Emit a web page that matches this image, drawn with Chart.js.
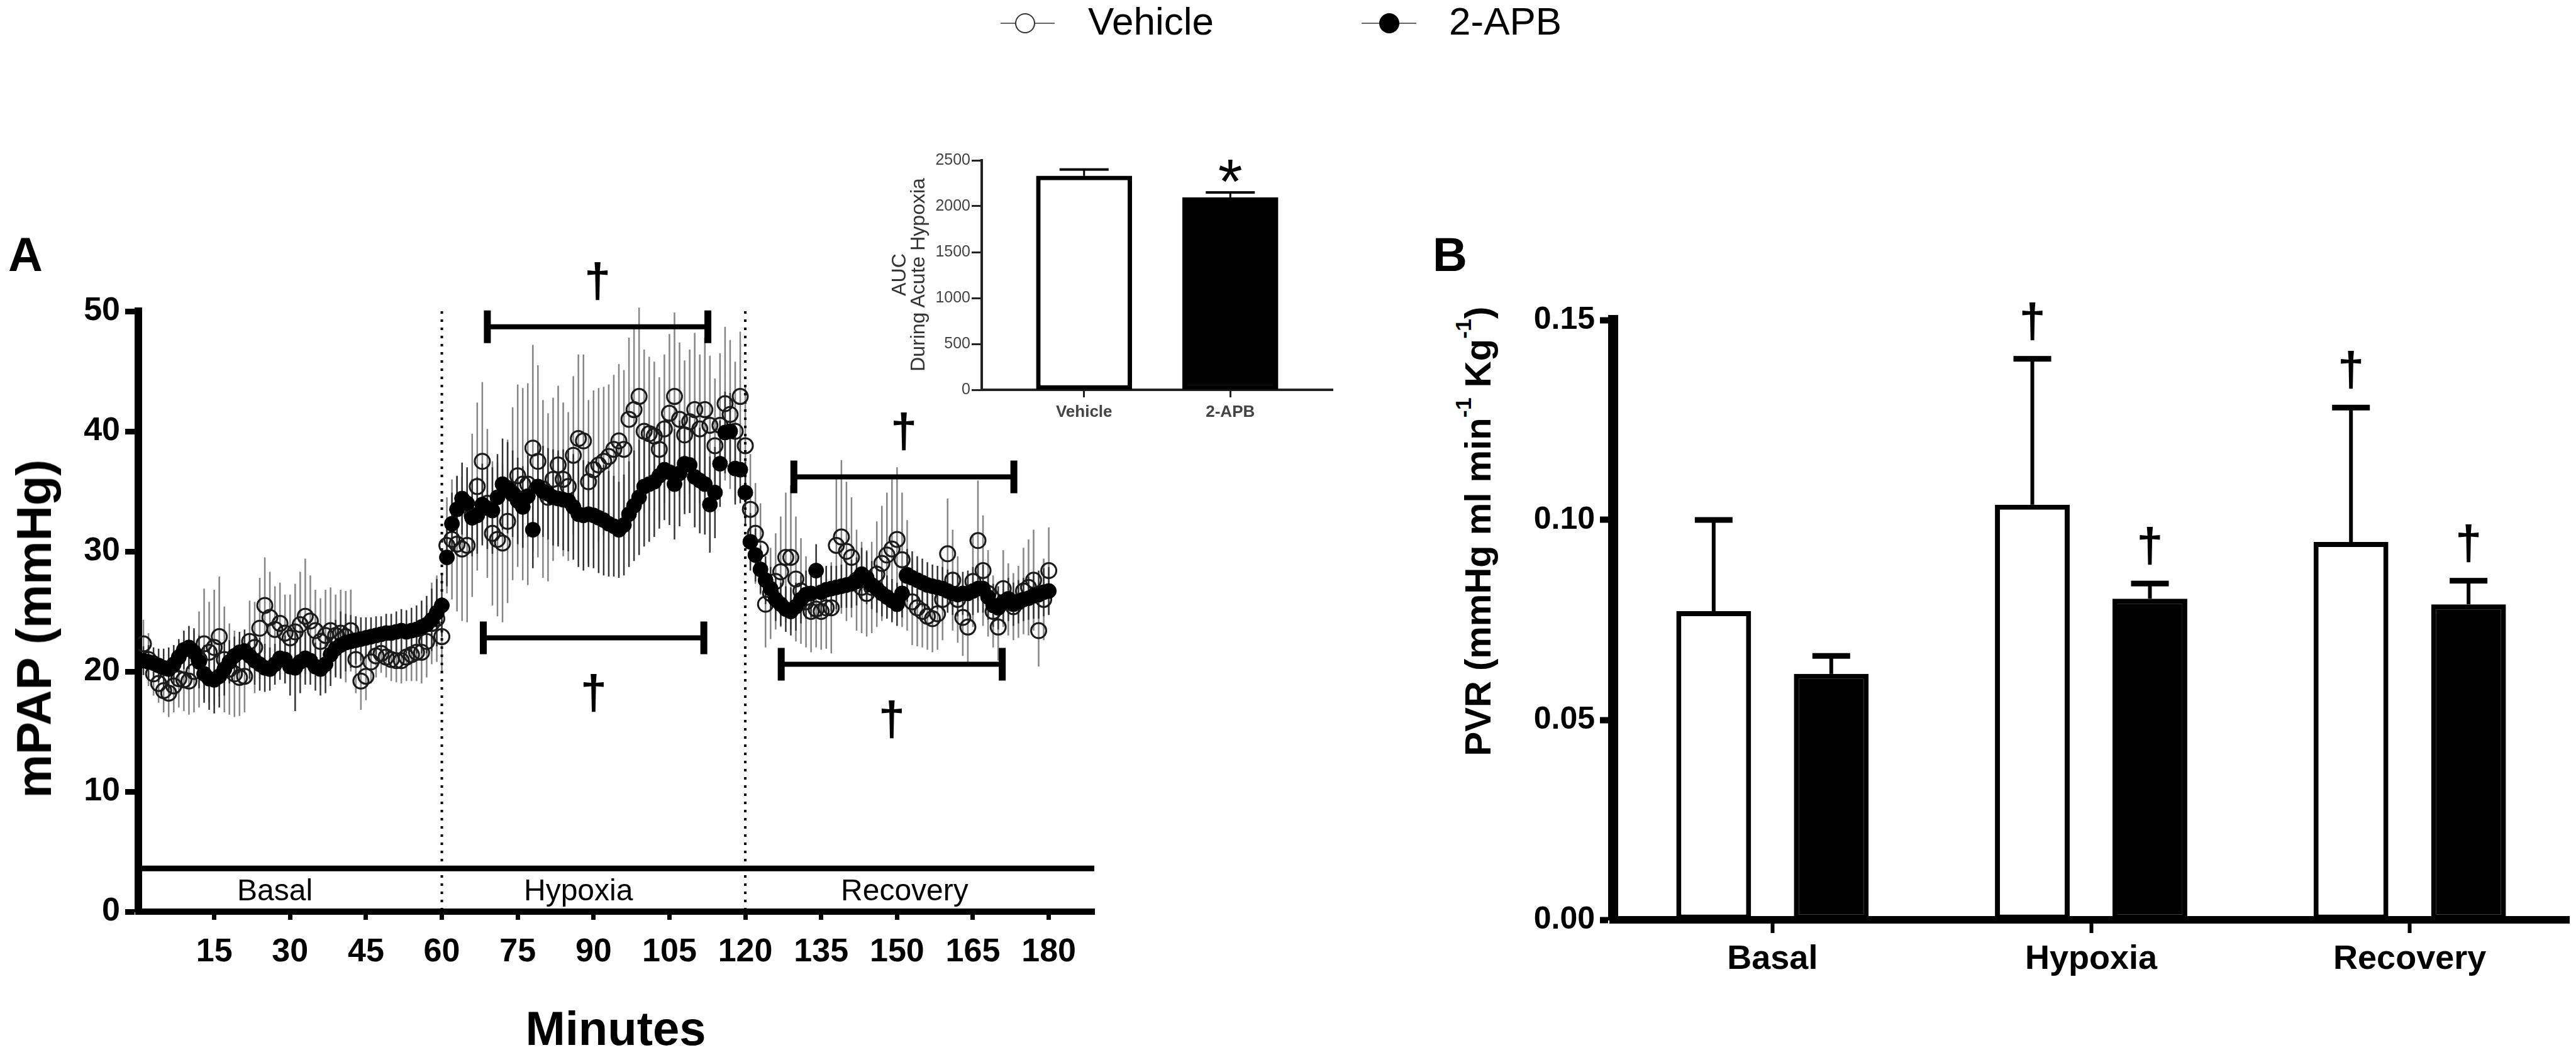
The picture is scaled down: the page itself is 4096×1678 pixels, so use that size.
<!DOCTYPE html>
<html>
<head>
<meta charset="utf-8">
<script src="https://cdn.jsdelivr.net/npm/chart.js@4.4.1/dist/chart.umd.min.js"></script>
<style>
body { margin: 0; background: #fff; width: 4096px; height: 1678px; position: relative; overflow: hidden; font-family: "Liberation Sans", Arial, sans-serif; }
canvas { position: absolute; }
.t { position: absolute; line-height: 1; white-space: nowrap; color: #000; }
.rot { transform: translate(-50%, -50%) rotate(-90deg); }
.sup { font-size: 0.62em; position: relative; top: -0.85em; }
</style>
</head>
<body>
<canvas id="mpap" width="1800" height="1298" style="left:0;top:380px;width:1800px;height:1298px"></canvas>
<canvas id="auc" width="760" height="500" style="left:1380px;top:200px;width:760px;height:500px"></canvas>
<canvas id="pvr" width="1696" height="1298" style="left:2400px;top:380px;width:1696px;height:1298px"></canvas>

<!-- legend -->
<div style="position:absolute;left:1591px;top:36px;width:86px;height:2px;background:#666"></div>
<div style="position:absolute;left:1614px;top:21px;width:32px;height:32px;box-sizing:border-box;border:2px solid #333;border-radius:50%;background:#fff"></div>
<div class="t" style="left:1730px;top:3px;font-size:62px">Vehicle</div>
<div style="position:absolute;left:2165px;top:36px;width:87px;height:2px;background:#666"></div>
<div style="position:absolute;left:2193px;top:21px;width:32px;height:32px;border-radius:50%;background:#000"></div>
<div class="t" style="left:2304px;top:3px;font-size:62px">2-APB</div>

<!-- panel letters and axis titles -->
<div class="t" style="left:13px;top:367px;font-size:76px;font-weight:bold">A</div>
<div class="t" style="left:2278px;top:367px;font-size:76px;font-weight:bold">B</div>
<div class="t rot" style="left:54px;top:1000px;font-size:78px;font-weight:bold">mPAP (mmHg)</div>
<div class="t" style="left:979px;top:1598px;font-size:76px;font-weight:bold;transform:translateX(-50%)">Minutes</div>
<div class="t rot" style="left:2350px;top:845px;font-size:58px;font-weight:bold">PVR (mmHg ml min<span class="sup">-1</span> Kg<span class="sup">-1</span>)</div>
<div class="t rot" style="left:1429px;top:437px;font-size:32px;color:#333">AUC</div>
<div class="t rot" style="left:1459px;top:437px;font-size:32px;color:#333">During Acute Hypoxia</div>

<script>
// ---- panel A: mPAP every minute ----
const minutes = Array.from({ length: 180 }, (_, i) => i + 1);

const vehicleMean = [
    22.3, 21.0, 19.8, 19.0, 18.4, 18.2, 18.8, 19.4, 19.3, 19.2,
    20.0, 21.0, 22.3, 21.6, 22.0, 22.9, 21.0, 20.2, 19.8, 19.5,
    19.6, 22.5, 22.0, 23.6, 25.5, 24.5, 23.5, 24.0, 23.2, 22.8,
    23.3, 23.9, 24.6, 24.2, 23.4, 22.5, 23.0, 23.4, 23.0, 23.2,
    22.9, 23.4, 21.0, 19.2, 19.6, 20.8, 21.3, 21.5, 21.2, 21.0,
    20.9, 20.9, 21.2, 21.4, 21.6, 21.6, 22.5, 24.0, 24.4, 22.9,
    30.5, 31.0, 30.6, 30.2, 30.5, 33.0, 35.4, 37.5, 34.0, 31.5,
    31.0, 30.7, 32.5, 34.8, 36.3, 35.6, 35.6, 38.6, 37.5, 35.2,
    34.5, 36.0, 37.2, 36.0, 35.4, 38.0, 39.4, 39.2, 35.8, 36.8,
    37.2, 37.5, 37.9, 38.5, 39.2, 38.5, 41.0, 41.8, 42.9, 40.0,
    39.8, 39.6, 38.5, 40.2, 41.5, 42.9, 41.0, 39.7, 40.8, 41.8,
    40.2, 41.8, 40.5, 38.8, 40.5, 42.3, 41.4, 40.0, 42.9, 38.8,
    33.5, 31.5, 30.2, 25.6, 26.5, 27.5, 28.3, 29.5, 29.5, 27.7,
    26.7, 25.8, 25.0, 25.2, 25.0, 25.3, 25.3, 30.5, 31.2, 30.0,
    29.5, 27.6, 27.0, 26.5, 27.0, 28.1, 29.0, 29.7, 30.2, 31.0,
    29.3, 28.0, 25.8, 25.3, 25.0, 24.6, 24.4, 24.8, 26.0, 29.8,
    27.6, 26.0, 24.5, 23.7, 27.5, 30.9, 28.4, 26.5, 25.0, 23.7,
    26.9, 26.0, 25.4, 25.8, 26.7, 27.0, 27.6, 23.4, 26.0, 28.4
];
const vehicleSem = [
    2.0, 2.2, 1.8, 1.6, 1.8, 2.0, 2.2, 2.4, 2.6, 2.8,
    3.4, 4.0, 4.6, 4.2, 4.8, 5.0, 4.4, 3.8, 3.6, 3.2,
    3.0, 3.4, 3.8, 4.2, 4.0, 3.8, 3.6, 3.4, 3.2, 3.6,
    4.0, 4.4, 4.8, 3.8, 3.4, 3.6, 3.8, 3.6, 3.4, 3.6,
    3.8, 3.4, 2.8, 2.4, 2.0, 1.8, 1.8, 1.6, 1.7, 1.8,
    1.8, 1.9, 2.0, 2.2, 2.4, 2.6, 3.0, 3.4, 3.6, 3.0,
    4.0, 5.0, 5.6, 6.0, 6.4, 6.8, 7.0, 6.6, 6.2, 6.0,
    6.4, 6.6, 6.8, 7.2, 7.6, 8.0, 8.4, 8.6, 8.0, 7.4,
    7.0, 6.8, 6.6, 6.4, 6.2, 6.6, 7.0, 7.2, 6.8, 6.6,
    6.4, 6.2, 6.0, 6.2, 6.4, 6.6, 6.8, 7.0, 7.4, 6.8,
    6.4, 6.2, 6.0, 6.2, 6.6, 7.0, 6.4, 6.2, 6.0, 6.4,
    6.2, 6.0, 5.8, 5.6, 6.0, 6.4, 6.2, 5.8, 5.4, 5.0,
    4.6, 4.2, 3.8, 3.6, 3.8, 4.0, 4.6, 5.4, 6.0, 5.2,
    4.4, 3.8, 3.4, 3.2, 3.2, 3.4, 3.8, 5.6, 6.4, 5.8,
    5.0, 4.2, 3.8, 3.6, 3.8, 4.4, 4.8, 5.2, 5.8, 6.0,
    5.6, 4.6, 3.6, 3.2, 3.0, 2.8, 2.8, 3.0, 3.4, 4.6,
    4.2, 3.6, 3.2, 3.0, 3.8, 5.0, 4.6, 3.6, 3.0, 2.8,
    3.2, 3.0, 2.8, 3.0, 3.6, 4.0, 4.2, 3.0, 3.4, 3.6
];
const apbMean = [
    20.9, 20.8, 20.7, 20.5, 20.3, 20.2, 20.6, 21.2, 21.8, 22.0,
    21.6, 20.8, 19.8, 19.4, 19.3, 19.6, 20.2, 20.8, 21.3, 21.6,
    21.7, 21.3, 20.9, 20.6, 20.3, 20.2, 20.6, 21.1, 21.0, 20.4,
    20.3, 20.8, 21.1, 20.9, 20.4, 20.2, 20.6, 21.4, 21.9, 22.2,
    22.4, 22.5, 22.6, 22.7, 22.8, 22.9, 23.0, 23.1, 23.2, 23.2,
    23.3, 23.4, 23.3, 23.4, 23.5, 23.7, 23.9, 24.3, 24.9, 25.5,
    29.5, 32.3, 33.5, 34.4, 34.0, 32.8, 33.0, 33.9, 33.6, 33.4,
    34.5, 35.6, 35.3, 34.8, 34.2, 33.7, 34.6, 31.8, 35.4, 35.0,
    34.8, 34.5, 34.4, 34.3, 34.2, 33.7, 33.1, 33.0, 33.1, 33.0,
    32.8, 32.6, 32.3, 32.1, 31.8, 32.2, 33.1, 33.8, 34.5, 35.4,
    35.6, 35.8, 36.3, 36.8, 36.6, 35.6, 36.5, 37.3, 37.2, 36.2,
    35.9, 35.6, 33.9, 34.9, 37.3, 39.9, 40.0, 36.9, 36.8, 34.9,
    30.8, 29.7, 28.5, 27.6, 26.9, 26.0, 25.6, 25.2, 25.0, 25.4,
    26.0, 26.4, 26.5, 28.4, 26.6, 26.8, 26.9, 27.0, 27.1, 27.2,
    27.3, 27.5, 28.1, 27.8, 27.2, 26.9, 26.5, 26.2, 25.9, 25.6,
    26.5, 28.0, 27.8, 27.6, 27.4, 27.2, 27.1, 27.0, 26.9, 26.7,
    26.5, 26.4, 26.5, 26.5, 26.7, 26.9, 26.9, 26.2, 25.5, 25.3,
    25.8, 26.0, 25.6, 25.8, 26.0, 26.1, 26.3, 26.4, 26.6, 26.7
];
const apbSem = [
    1.2, 1.4, 1.3, 1.4, 1.6, 1.8, 1.6, 1.5, 1.6, 1.8,
    2.0, 2.2, 2.4, 2.6, 2.8, 2.6, 2.2, 1.8, 1.6, 1.7,
    1.8, 1.9, 2.0, 2.2, 2.0, 1.8, 1.7, 1.8, 2.0, 2.4,
    3.6, 2.6, 2.2, 2.0, 2.0, 2.2, 2.4, 2.6, 2.4, 2.8,
    2.4, 2.2, 2.0, 1.8, 1.7, 1.6, 1.6, 1.5, 1.6, 1.6,
    1.7, 1.8, 1.8, 1.9, 2.0, 2.2, 2.4, 2.6, 2.8, 2.6,
    2.4, 2.6, 2.8, 3.0, 3.0, 3.2, 3.2, 3.4, 3.4, 3.6,
    3.6, 3.8, 3.8, 3.6, 3.6, 3.4, 3.4, 3.2, 3.6, 3.8,
    3.8, 4.0, 4.0, 4.2, 4.2, 4.4, 4.4, 4.6, 4.4, 4.4,
    4.6, 4.6, 4.4, 4.2, 4.0, 4.2, 4.4, 4.6, 4.8, 5.0,
    4.8, 4.6, 4.4, 4.2, 4.4, 4.6, 4.4, 4.2, 4.0, 4.2,
    4.4, 4.2, 4.0, 3.8, 3.6, 3.4, 3.2, 3.0, 2.8, 2.6,
    2.4, 2.2, 2.0, 2.0, 1.8, 1.8, 1.8, 1.9, 2.0, 2.0,
    2.0, 2.0, 2.0, 2.2, 2.0, 2.0, 1.9, 1.8, 1.8, 1.9,
    2.0, 2.0, 2.2, 2.2, 2.0, 2.0, 1.9, 1.8, 1.8, 1.8,
    2.0, 2.2, 2.2, 2.0, 2.0, 1.9, 1.8, 1.8, 1.8, 1.8,
    1.8, 1.8, 1.8, 1.9, 2.0, 2.0, 2.0, 1.9, 1.8, 1.8,
    1.8, 1.8, 1.8, 1.8, 1.8, 1.8, 1.9, 2.0, 2.0, 2.0
];
const mpapTicks = [0, 10, 20, 30, 40, 50];
const minuteTicks = [15, 30, 45, 60, 75, 90, 105, 120, 135, 150, 165, 180];
const phaseNames = ["Basal", "Hypoxia", "Recovery"];
const phaseStart = [0, 60, 120];
const phaseEnd = [60, 120, 189];
// significance brackets (minutes, mmHg)
const bracketStart = [69, 68.2, 129.6, 127.1];
const bracketEnd = [112.6, 111.8, 173.1, 170.8];
const bracketLevel = [48.7, 22.8, 36.2, 20.6];
const bracketSide = ["above", "below", "above", "below"];

// ---- inset: AUC ----
const aucGroups = ["Vehicle", "2-APB"];
const aucMean = [2330, 2095];
const aucSem = [70, 55];
const aucMarks = ["", "*"];
const aucTicks = [0, 500, 1000, 1500, 2000, 2500];

// ---- panel B: PVR ----
const pvrPhases = ["Basal", "Hypoxia", "Recovery"];
const pvrVehicle = [0.0772, 0.1038, 0.0945];
const pvrVehicleSem = [0.0228, 0.0365, 0.0336];
const pvrApb = [0.0615, 0.0803, 0.0789];
const pvrApbSem = [0.0045, 0.0038, 0.0059];
const pvrVehicleMarks = ["", "\u2020", "\u2020"];
const pvrApbMarks = ["", "\u2020", "\u2020"];
const pvrTicks = [0, 0.05, 0.10, 0.15];

const FONT = '"Liberation Sans", Arial, sans-serif';
Chart.defaults.font.family = FONT;
Chart.defaults.color = "#000";

const fixedTicks = list => scale => { scale.ticks = list.map(v => ({ value: v })); };

const pointErrors = {
    id: "pointErrors",
    beforeDatasetsDraw(chart) {
        const { ctx, scales: { x, y } } = chart;
        ctx.save();
        chart.data.datasets.forEach(ds => {
            ctx.strokeStyle = ds.errColor;
            ctx.lineWidth = 2.5;
            ctx.beginPath();
            ds.data.forEach((p, i) => {
                const px = x.getPixelForValue(p.x);
                ctx.moveTo(px, y.getPixelForValue(p.y - ds.sem[i]));
                ctx.lineTo(px, y.getPixelForValue(p.y + ds.sem[i]));
            });
            ctx.stroke();
        });
        ctx.restore();
    }
};

const phaseMarks = {
    id: "phaseMarks",
    beforeDatasetsDraw(chart) {
        const { ctx, scales: { x, y } } = chart;
        ctx.save();
        ctx.strokeStyle = "#000";
        ctx.lineWidth = 4;
        ctx.setLineDash([4, 9]);
        phaseStart.slice(1).forEach(m => {
            const px = x.getPixelForValue(m);
            ctx.beginPath();
            ctx.moveTo(px, y.getPixelForValue(y.max));
            ctx.lineTo(px, y.getPixelForValue(0));
            ctx.stroke();
        });
        ctx.restore();
    },
    afterDatasetsDraw(chart) {
        const { ctx, chartArea, scales: { x, y } } = chart;
        ctx.save();
        ctx.strokeStyle = "#000";
        ctx.fillStyle = "#000";
        // phase band
        const band = y.getPixelForValue(3.6);
        ctx.lineWidth = 9;
        ctx.beginPath();
        ctx.moveTo(chartArea.left, band);
        ctx.lineTo(chartArea.right, band);
        ctx.stroke();
        ctx.font = "48px " + FONT;
        ctx.textAlign = "center";
        ctx.textBaseline = "alphabetic";
        phaseNames.forEach((name, i) => {
            const mid = (phaseStart[i] + phaseEnd[i]) / 2 - 3;
            ctx.fillText(name, x.getPixelForValue(mid), y.getPixelForValue(0) - 18);
        });
        // brackets and daggers
        ctx.font = "bold 76px " + FONT;
        bracketStart.forEach((s, i) => {
            const x1 = x.getPixelForValue(s);
            const x2 = x.getPixelForValue(bracketEnd[i]);
            const py = y.getPixelForValue(bracketLevel[i]);
            ctx.lineWidth = 8;
            ctx.beginPath();
            ctx.moveTo(x1, py);
            ctx.lineTo(x2, py);
            ctx.stroke();
            ctx.lineWidth = 11;
            ctx.beginPath();
            ctx.moveTo(x1, py - 26); ctx.lineTo(x1, py + 26);
            ctx.moveTo(x2, py - 26); ctx.lineTo(x2, py + 26);
            ctx.stroke();
            const cy = bracketSide[i] === "above" ? py - 70 : py + 90;
            ctx.fillText("\u2020", (x1 + x2) / 2, cy + 0.29 * 76);
        });
        ctx.restore();
    }
};

const barErrors = {
    id: "barErrors",
    afterDatasetsDraw(chart, args, opts) {
        const { ctx } = chart;
        const y = chart.scales.y;
        ctx.save();
        ctx.strokeStyle = "#000";
        ctx.fillStyle = "#000";
        chart.data.datasets.forEach((ds, di) => {
            const meta = chart.getDatasetMeta(di);
            meta.data.forEach((bar, i) => {
                const raw = ds.data[i];
                const v = typeof raw === "object" ? raw.y : raw;
                const top = y.getPixelForValue(v + ds.sem[i]);
                ctx.lineWidth = opts.line;
                ctx.beginPath();
                ctx.moveTo(bar.x, bar.y);
                ctx.lineTo(bar.x, top);
                ctx.stroke();
                ctx.fillRect(bar.x - opts.cap / 2, top - opts.capThick / 2, opts.cap, opts.capThick);
                const mark = ds.marks[i];
                if (mark) {
                    ctx.font = opts.markFont;
                    ctx.textAlign = "center";
                    ctx.textBaseline = "alphabetic";
                    ctx.fillText(mark, bar.x, top - opts.markLift + opts.markRatio * opts.markSize);
                }
            });
        });
        ctx.restore();
    }
};

new Chart(document.getElementById("mpap"), {
    type: "scatter",
    data: {
        datasets: [
            {
                label: "Vehicle",
                data: minutes.map((m, i) => ({ x: m, y: vehicleMean[i] })),
                sem: vehicleSem,
                errColor: "#858585",
                pointRadius: 12,
                pointBorderWidth: 3,
                pointBorderColor: "#1a1a1a",
                pointBackgroundColor: "rgba(255,255,255,0)",
                order: 2
            },
            {
                label: "2-APB",
                data: minutes.map((m, i) => ({ x: m, y: apbMean[i] })),
                sem: apbSem,
                errColor: "#333",
                pointRadius: 12,
                pointBorderWidth: 1,
                pointBorderColor: "#000",
                pointBackgroundColor: "#000",
                order: 1
            }
        ]
    },
    options: {
        responsive: false,
        animation: false,
        devicePixelRatio: 1,
        layout: { padding: { top: 115, right: 60, left: 0, bottom: 0 } },
        plugins: { legend: { display: false }, tooltip: { enabled: false } },
        scales: {
            x: {
                type: "linear", min: 0, max: 189, z: 1,
                afterBuildTicks: fixedTicks(minuteTicks),
                afterFit: s => { s.height = 228; },
                grid: { drawOnChartArea: false, tickLength: 13, tickWidth: 7, tickColor: "#000" },
                border: { color: "#000", width: 10 },
                ticks: { padding: 20, autoSkip: false, maxRotation: 0, color: "#000", font: { size: 52, weight: "bold" } }
            },
            y: {
                min: 0, max: 50, z: 1,
                afterBuildTicks: fixedTicks(mpapTicks),
                afterFit: s => { s.width = 220; },
                grid: { drawOnChartArea: false, tickLength: 21, tickWidth: 9, tickColor: "#000" },
                border: { color: "#000", width: 12 },
                ticks: { padding: 8, color: "#000", font: { size: 52, weight: "bold" } }
            }
        }
    },
    plugins: [pointErrors, phaseMarks]
});

new Chart(document.getElementById("auc"), {
    type: "bar",
    data: {
        datasets: [{
            data: aucMean.map((v, i) => ({ x: i, y: v })),
            sem: aucSem,
            marks: aucMarks,
            backgroundColor: ["#fff", "#000"],
            borderColor: "#000",
            borderWidth: 7,
            borderSkipped: false,
            barThickness: 152
        }]
    },
    options: {
        responsive: false,
        animation: false,
        devicePixelRatio: 1,
        layout: { padding: { top: 55, right: 21, left: 0, bottom: 0 } },
        plugins: {
            legend: { display: false }, tooltip: { enabled: false },
            barErrors: { line: 3, cap: 78, capThick: 4, markFont: "100px " + FONT, markSize: 100, markLift: 40, markRatio: 0.573 }
        },
        scales: {
            x: {
                type: "linear", min: -0.7, max: 1.7, offset: false, z: 1,
                afterBuildTicks: fixedTicks([0, 1]),
                afterFit: s => { s.height = 80; },
                grid: { offset: false, drawOnChartArea: false, tickLength: 12, tickWidth: 3, tickColor: "#222" },
                border: { color: "#222", width: 4 },
                ticks: { padding: 8, color: "#444", font: { size: 26, weight: "bold" }, callback: v => aucGroups[v] }
            },
            y: {
                min: 0, max: 2500, z: 1,
                afterBuildTicks: fixedTicks(aucTicks),
                afterFit: s => { s.width = 181; },
                grid: { drawOnChartArea: false, tickLength: 16, tickWidth: 3, tickColor: "#222" },
                border: { color: "#222", width: 4 },
                ticks: { padding: 2, color: "#444", font: { size: 25 }, callback: v => String(v) }
            }
        }
    },
    plugins: [barErrors]
});

new Chart(document.getElementById("pvr"), {
    type: "bar",
    data: {
        labels: pvrPhases,
        datasets: [
            {
                label: "Vehicle", data: pvrVehicle, sem: pvrVehicleSem, marks: pvrVehicleMarks,
                backgroundColor: "#fff", borderColor: "#000", borderWidth: 8, borderSkipped: false
            },
            {
                label: "2-APB", data: pvrApb, sem: pvrApbSem, marks: pvrApbMarks,
                backgroundColor: "#000", borderColor: "#000", borderWidth: 8, borderSkipped: false
            }
        ]
    },
    options: {
        responsive: false,
        animation: false,
        devicePixelRatio: 1,
        categoryPercentage: 0.738,
        barPercentage: 0.636,
        layout: { padding: { top: 129, right: 11, left: 0, bottom: 0 } },
        plugins: {
            legend: { display: false }, tooltip: { enabled: false },
            barErrors: { line: 6, cap: 60, capThick: 9, markFont: "bold 76px " + FONT, markSize: 76, markLift: 57, markRatio: 0.29 }
        },
        scales: {
            x: {
                z: 1,
                afterFit: s => { s.height = 215; },
                grid: { offset: false, drawOnChartArea: false, tickLength: 21, tickWidth: 6, tickColor: "#000" },
                border: { color: "#000", width: 12 },
                ticks: { padding: 10, color: "#000", font: { size: 54, weight: "bold" } }
            },
            y: {
                min: 0, max: 0.15, z: 1,
                afterBuildTicks: fixedTicks(pvrTicks),
                afterFit: s => { s.width = 165; },
                grid: { drawOnChartArea: false, tickLength: 21, tickWidth: 10, tickColor: "#000" },
                border: { color: "#000", width: 16 },
                ticks: { padding: 8, color: "#000", font: { size: 50, weight: "bold" }, callback: v => v.toFixed(2) }
            }
        }
    },
    plugins: [barErrors]
});
</script>
</body>
</html>
